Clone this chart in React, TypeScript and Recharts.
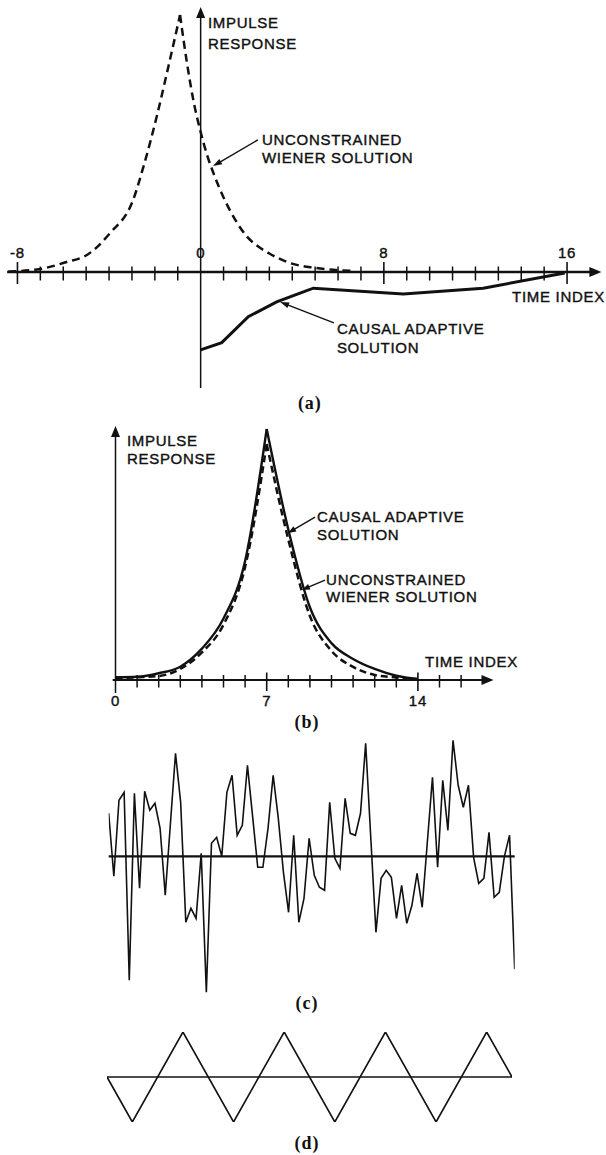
import React from 'react';
import { LineChart, Line, XAxis, YAxis, ReferenceLine, ReferenceDot } from 'recharts';

const FONT = '"Liberation Sans", Arial, Helvetica, sans-serif';
const SERIF = '"Liberation Serif", "Times New Roman", serif';
const INK = '#111';

// ---------- Panel (a) ----------
const A_TICKS = [-8, -7, -6, -5, -4, -3, -2, -1, 1, 2, 3, 4, 5, 6, 7, 8, 9, 10, 11, 12, 13, 14, 15, 16];
const A_MAJOR = [-8, 8, 16];
const A_LABEL_POS = [-8, 0, 8, 16];
const A_TICK_LABELS = ['-8', '0', '8', '16'];
const A_WIENER_T = [-8.4, -7, -5.85, -4.97, -3.95, -2.95, -2.5, -1.92, -1.41, -0.9, -0.6, -0.3, 0, 0.3, 0.6, 1.0, 1.5, 2.0, 2.5, 3.0, 3.9, 5.0, 6.7];
const A_WIENER_V = [0.02, 0.12, 0.39, 0.66, 1.52, 2.8, 4.09, 6.04, 7.99, 10.0, 8.15, 6.6, 5.45, 4.5, 3.75, 2.9, 2.05, 1.4, 1.0, 0.72, 0.35, 0.16, 0.04];
const A_CAUSAL_T = [0, 0.92, 2.08, 3.32, 4.34, 4.92, 8.85, 12.34, 15.9];
const A_CAUSAL_V = [-3.03, -2.75, -1.74, -1.16, -0.82, -0.63, -0.86, -0.63, -0.04];

// ---------- Panel (b) ----------
const B_TIME = [0, 1, 2, 3, 4, 5, 6, 7, 8, 9, 10, 11, 12, 13, 14];
const B_CAUSAL = [0.11, 0.13, 0.27, 0.53, 1.25, 2.45, 4.74, 10.0, 6.0, 2.9, 1.47, 0.84, 0.44, 0.17, 0.04];
const B_WIENER = [0.08, 0.11, 0.16, 0.44, 1.1, 2.2, 4.5, 9.4, 5.6, 2.55, 1.16, 0.52, 0.2, 0.1, 0.03];
const B_TICKS = [1, 2, 3, 4, 5, 6, 7, 8, 9, 10, 11, 12, 13, 14, 15, 16];
const B_MAJOR = [7, 14];
const B_LABEL_POS = [0, 7, 14];
const B_TICK_LABELS = ['0', '7', '14'];

// ---------- Panel (c) ----------
const C_SIGNAL = [
  0.43, -0.20, 0.56, 0.64, -1.24, 0.63, -0.32, 0.65, 0.46, 0.53,
  0.28, -0.39, 0.32, 1.03, 0.54, -0.66, -0.52, -0.62, 0.03, -1.36,
  0.13, 0.19, 0.00, 0.64, 0.81, 0.21, 0.31, 0.91, 0.40, -0.11,
  -0.11, 0.28, 0.81, 0.38, -0.16, -0.56, 0.21, -0.66, -0.42, 0.18,
  -0.19, -0.31, -0.34, 0.54, -0.02, -0.12, 0.58, 0.23, 0.21, 0.43,
  1.13, 0.18, -0.76, -0.22, -0.14, -0.21, -0.62, -0.29, -0.67, -0.49,
  -0.17, -0.51, 0.14, 0.79, -0.11, 0.76, 0.26, 1.16, 0.71, 0.49,
  0.71, -0.01, -0.27, -0.22, 0.24, -0.41, -0.36, 0.00, 0.21, -1.13,
];

// ---------- Panel (d) ----------
const D_TIME = [0, 0.25, 0.75, 1.25, 1.75, 2.25, 2.75, 3.25, 3.75, 4];
const D_VALUE = [0, -1, 1, -1, 1, -1, 1, -1, 1, 0];

// ---------- helpers ----------
type Pt = { t: number; v: number };
const zip = (ts: number[], vs: number[]): Pt[] => ts.map((t, i) => ({ t, v: vs[i] }));
const splitAtPeak = (pts: Pt[]): [Pt[], Pt[]] => {
  const i = pts.reduce((m, p, k) => (p.v > pts[m].v ? k : m), 0);
  return [pts.slice(0, i + 1), pts.slice(i)];
};

const aWiener = splitAtPeak(zip(A_WIENER_T, A_WIENER_V));
const aCausal = zip(A_CAUSAL_T, A_CAUSAL_V);
const bCausal = splitAtPeak(zip(B_TIME, B_CAUSAL));
const bWiener = splitAtPeak(zip(B_TIME, B_WIENER));
const cData = C_SIGNAL.map((v, i) => ({ t: i, v }));
const dData = zip(D_TIME, D_VALUE);

const txt = (label: string, anchor: 'start' | 'middle' | 'end' = 'start', dy = 0) => (p: any) => (
  <text
    x={p.cx}
    y={p.cy + dy}
    textAnchor={anchor}
    dominantBaseline="central"
    fontFamily={FONT}
    fontSize={15}
    letterSpacing={0.7}
    fill={INK}
    stroke={INK}
    strokeWidth={0.4}
  >
    {label}
  </text>
);

const panelLabel = (label: string) => (p: any) => (
  <text
    x={p.cx}
    y={p.cy}
    textAnchor="middle"
    dominantBaseline="central"
    fontFamily={SERIF}
    fontWeight="bold"
    fontSize={18}
    letterSpacing={1}
    fill={INK}
  >
    {label}
  </text>
);

const tickShape = (up: number, down: number, sw: number) => (p: any) => (
  <line x1={p.cx} x2={p.cx} y1={p.cy - up} y2={p.cy + down} stroke={INK} strokeWidth={sw} />
);

const arrowShape = (sw: number, head: number, halfW: number) => (p: any) => {
  const { x1, y1, x2, y2 } = p;
  const dx = x2 - x1;
  const dy = y2 - y1;
  const len = Math.hypot(dx, dy) || 1;
  const ux = dx / len;
  const uy = dy / len;
  const bx = x2 - ux * head;
  const by = y2 - uy * head;
  const px = -uy * halfW;
  const py = ux * halfW;
  return (
    <g>
      <line x1={x1} y1={y1} x2={bx + ux} y2={by + uy} stroke={INK} strokeWidth={sw} />
      <polygon points={`${x2},${y2} ${bx + px},${by + py} ${bx - px},${by - py}`} fill={INK} />
    </g>
  );
};

const lineCommon = {
  dataKey: 'v',
  dot: false,
  activeDot: false,
  isAnimationActive: false,
  stroke: INK,
} as const;

const axesFor = (xd: [number, number], yd: [number, number]) => [
  <XAxis key="x" type="number" dataKey="t" domain={xd} allowDataOverflow hide />,
  <YAxis key="y" type="number" domain={yd} allowDataOverflow hide />,
];

function PanelA() {
  return (
    <LineChart width={606} height={415} margin={{ top: 4.72, right: 4.6, bottom: 24.78, left: 6 }}>
      {axesFor([-8.5, 17.5], [-4.6, 10.4])}
      <ReferenceLine segment={[{ x: -8.45, y: 0 }, { x: 17.5, y: 0 }]} ifOverflow="visible" shape={arrowShape(2.4, 12, 5)} />
      <ReferenceLine segment={[{ x: 0, y: -4.51 }, { x: 0, y: 10.31 }]} ifOverflow="visible" shape={arrowShape(1.5, 11, 4.5)} />
      {A_TICKS.map((t) => (
        <ReferenceDot key={`at${t}`} x={t} y={0} r={0} ifOverflow="visible"
          shape={A_MAJOR.includes(t) ? tickShape(10, 12, 1.6) : tickShape(5.5, 8.5, 1.5)} />
      ))}
      {A_LABEL_POS.map((t, i) => (
        <ReferenceDot key={`al${t}`} x={t} y={0} r={0} ifOverflow="visible" shape={txt(A_TICK_LABELS[i], 'middle', -20)} />
      ))}
      <Line {...lineCommon} data={aWiener[0]} type="monotone" strokeWidth={2.5} strokeDasharray="8 5" />
      <Line {...lineCommon} data={aWiener[1]} type="monotone" strokeWidth={2.5} strokeDasharray="8 5" />
      <Line {...lineCommon} data={aCausal} type="linear" strokeWidth={3} />
      <ReferenceDot x={0.32} y={9.69} r={0} ifOverflow="visible" shape={txt('IMPULSE')} />
      <ReferenceDot x={0.32} y={8.91} r={0} ifOverflow="visible" shape={txt('RESPONSE')} />
      <ReferenceDot x={2.68} y={5.14} r={0} ifOverflow="visible" shape={txt('UNCONSTRAINED')} />
      <ReferenceDot x={2.68} y={4.44} r={0} ifOverflow="visible" shape={txt('WIENER SOLUTION')} />
      <ReferenceDot x={5.95} y={-2.18} r={0} ifOverflow="visible" shape={txt('CAUSAL ADAPTIVE')} />
      <ReferenceDot x={5.95} y={-2.92} r={0} ifOverflow="visible" shape={txt('SOLUTION')} />
      <ReferenceDot x={13.6} y={-0.97} r={0} ifOverflow="visible" shape={txt('TIME INDEX')} />
      <ReferenceLine segment={[{ x: 2.5, y: 5.14 }, { x: 0.54, y: 4.12 }]} ifOverflow="visible" shape={arrowShape(1.4, 9, 3)} />
      <ReferenceLine segment={[{ x: 5.82, y: -1.98 }, { x: 3.47, y: -1.17 }]} ifOverflow="visible" shape={arrowShape(1.4, 9, 3)} />
      <ReferenceDot x={4.77} y={-5.1} r={0} ifOverflow="visible" shape={panelLabel('(a)')} />
    </LineChart>
  );
}

function PanelB() {
  return (
    <LineChart width={606} height={320} margin={{ top: 9, right: 112.5, bottom: 39.92, left: 104.7 }}>
      {axesFor([-0.5, 17.5], [-0.6, 10.2])}
      <ReferenceLine segment={[{ x: -0.13, y: 0 }, { x: 17.5, y: 0 }]} ifOverflow="visible" shape={arrowShape(2.2, 12, 5)} />
      <ReferenceLine segment={[{ x: 0, y: -0.52 }, { x: 0, y: 10.12 }]} ifOverflow="visible" shape={arrowShape(1.5, 11, 4.5)} />
      {B_TICKS.map((t) => (
        <ReferenceDot key={`bt${t}`} x={t} y={0} r={0} ifOverflow="visible"
          shape={B_MAJOR.includes(t) ? tickShape(7.5, 11, 1.6) : tickShape(5, 7.5, 1.5)} />
      ))}
      {B_LABEL_POS.map((t, i) => (
        <ReferenceDot key={`bl${t}`} x={t} y={0} r={0} ifOverflow="visible" shape={txt(B_TICK_LABELS[i], 'middle', 20)} />
      ))}
      <Line {...lineCommon} data={bWiener[0]} type="monotone" strokeWidth={2.5} strokeDasharray="7 4" />
      <Line {...lineCommon} data={bWiener[1]} type="monotone" strokeWidth={2.5} strokeDasharray="7 4" />
      <Line {...lineCommon} data={bCausal[0]} type="monotone" strokeWidth={2.4} />
      <Line {...lineCommon} data={bCausal[1]} type="monotone" strokeWidth={2.4} />
      <ReferenceDot x={0.53} y={9.56} r={0} ifOverflow="visible" shape={txt('IMPULSE')} />
      <ReferenceDot x={0.53} y={8.84} r={0} ifOverflow="visible" shape={txt('RESPONSE')} />
      <ReferenceDot x={9.33} y={6.51} r={0} ifOverflow="visible" shape={txt('CAUSAL ADAPTIVE')} />
      <ReferenceDot x={9.33} y={5.8} r={0} ifOverflow="visible" shape={txt('SOLUTION')} />
      <ReferenceDot x={9.75} y={4.02} r={0} ifOverflow="visible" shape={txt('UNCONSTRAINED')} />
      <ReferenceDot x={9.75} y={3.31} r={0} ifOverflow="visible" shape={txt('WIENER SOLUTION')} />
      <ReferenceDot x={14.33} y={0.74} r={0} ifOverflow="visible" shape={txt('TIME INDEX')} />
      <ReferenceLine segment={[{ x: 9.24, y: 6.49 }, { x: 7.99, y: 5.86 }]} ifOverflow="visible" shape={arrowShape(1.4, 8, 3)} />
      <ReferenceLine segment={[{ x: 9.7, y: 3.98 }, { x: 8.63, y: 3.59 }]} ifOverflow="visible" shape={arrowShape(1.4, 8, 3)} />
      <ReferenceDot x={8.87} y={-1.67} r={0} ifOverflow="visible" shape={panelLabel('(b)')} />
    </LineChart>
  );
}

function PanelC() {
  return (
    <LineChart width={606} height={320} margin={{ top: 6.3, right: 91.3, bottom: 13.7, left: 108.7 }}>
      {axesFor([0, C_SIGNAL.length - 1], [-1.5, 1.5])}
      <ReferenceLine y={0} stroke={INK} strokeWidth={2.2} />
      <Line {...lineCommon} data={cData} type="linear" strokeWidth={1.6} />
      <ReferenceDot x={38.6} y={-1.47} r={0} ifOverflow="visible" shape={panelLabel('(c)')} />
    </LineChart>
  );
}

function PanelD() {
  return (
    <LineChart width={606} height={135} margin={{ top: 12, right: 94, bottom: 33, left: 107 }}>
      {axesFor([0, 4], [-1, 1])}
      <ReferenceLine y={0} stroke={INK} strokeWidth={1.7} />
      <Line {...lineCommon} data={dData} type="linear" strokeWidth={1.6} />
      <ReferenceDot x={1.975} y={-1.46} r={0} ifOverflow="visible" shape={panelLabel('(d)')} />
    </LineChart>
  );
}

export default function App() {
  const abs = (top: number): React.CSSProperties => ({ position: 'absolute', left: 0, top });
  return (
    <div style={{ position: 'absolute', left: 0, top: 0, width: 606, height: 1155, background: '#fff', overflow: 'hidden' }}>
      <div style={abs(0)}><PanelA /></div>
      <div style={abs(415)}><PanelB /></div>
      <div style={abs(700)}><PanelC /></div>
      <div style={abs(1020)}><PanelD /></div>
    </div>
  );
}
